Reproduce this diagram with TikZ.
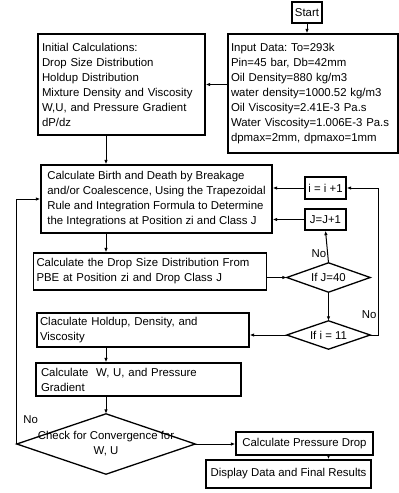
\documentclass[tikz,border=0pt]{standalone}
\usepackage{fontspec}
\setmainfont{Liberation Sans}
\usetikzlibrary{arrows.meta}
\frenchspacing

\begin{document}
\begin{tikzpicture}[
  x=1pt,y=-1pt,
  >={Latex[length=4.5pt,width=3.5pt]},
  font=\fontsize{11.4}{15}\selectfont,
  box/.style={draw,line width=1.3pt,inner xsep=3pt,inner ysep=2pt,
    align=left,text width=#1},
  tag/.style={draw,line width=1.3pt,inner sep=2pt,align=center},
  test/.style={inner sep=0pt,align=center},
  flow/.style={->,line width=1pt},
  lab/.style={inner sep=1pt}]

  \useasboundingbox (0,0) rectangle (399,493);

  % ---- top: start, input data, initial calculations ----
  \node[tag,minimum width=30,minimum height=21] (start) at (307,12.5) {Start};
  \node[box=164,minimum width=170,minimum height=119] (input) at (313,93.5)
    {Input Data: To=293k\\Pin=45 bar, Db=42mm\\Oil Density=880 kg/m3\\
     water density=1000.52 kg/m3\\Oil Viscosity=2.41E-3 Pa.s\\
     Water Viscosity=1.006E-3 Pa.s\\dpmax=2mm, dpmaxo=1mm};
  \node[box=159,minimum width=167,minimum height=101] (init) at (121.5,84.5)
    {Initial Calculations:\\Drop Size Distribution\\Holdup Distribution\\
     Mixture Density and Viscosity\\W,U, and Pressure Gradient\\dP/dz};

  \draw[flow] (start.south) -- (start.south |- input.north);
  \draw[flow] (input.west |- init.east) -- (init.east);

  % ---- inner loops over classes J and positions i ----
  \node[tag,align=left,minimum width=231,minimum height=68] (birth) at (156.5,199)
    {Calculate Birth and Death by Breakage\\
     and/or Coalescence, Using the Trapezoidal\\
     Rule and Integration Formula to Determine\\
     the Integrations at Position zi and Class J};
  \node[tag,minimum width=41,minimum height=22] (inci) at (325.5,188) {i = i +1};
  \node[tag,minimum width=41,minimum height=21] (incJ) at (325.5,219.5) {J=J+1};
  \node[box=227,minimum width=232,minimum height=37] (dsd) at (150,271.5)
    {Calculate the Drop Size Distribution From\\
     PBE at Position zi and Drop Class J};
  \node[test,minimum width=83,minimum height=29] (ifJ) at (328.5,277.5) {If J=40};
  \node[box=206,minimum width=210,minimum height=34] (holdup) at (143,330)
    {Claculate Holdup, Density, and\\Viscosity};
  \node[test,minimum width=83,minimum height=28] (ifi) at (328.5,335) {If i = 11};
  \coordinate (loopR) at (378,188);

  \draw[flow] (init.south -| 106,0) -- (birth.north -| 106,0);
  \draw[flow] (inci.west) -- (inci.west -| birth.east);
  \draw[flow] (incJ.west) -- (incJ.west -| birth.east);
  \draw[flow] (birth.south -| 106,0) -- (dsd.north -| 106,0);
  \draw[flow] (dsd.east |- ifJ.west) -- (ifJ.west);
  \draw[flow] (ifJ.north) -- (incJ.south) node[lab,pos=0.27,left] {No};
  \draw[flow] (ifJ.south) -- (ifi.north);
  \draw[flow] (ifi.west) -- (ifi.west -| holdup.east);
  \draw[flow] (ifi.east) -| (loopR) node[lab,pos=0.57,left] {No} -- (inci.east);

  % ---- outer loop: W, U and convergence ----
  \node[box=195,minimum width=205,minimum height=33] (wu) at (138.5,379.5)
    {Calculate\ \ W, U, and Pressure\\Gradient};
  \node[test,minimum width=178,minimum height=60] (conv) at (106,444)
    {Check for Convergence for\\W, U};
  \node[tag,minimum width=137,minimum height=23] (pdrop) at (304.5,443.5)
    {Calculate Pressure Drop};
  \node[tag,minimum width=165,minimum height=28] (disp) at (288.5,474)
    {Display Data and Final Results};

  \draw[flow] (holdup.south -| conv) -- (wu.north -| conv);
  \draw[flow] (wu.south -| conv) -- (conv.north);
  \draw[flow] (conv.west) |- (birth.west) node[lab,pos=0.05,right=5pt] {No};
  \draw[flow] (conv.east) -- (conv.east -| pdrop.west);
  \draw[flow] (pdrop.south -| ifJ) -- (disp.north -| ifJ);

  % diamonds
  \foreach \d in {ifJ,ifi,conv}
    \draw[line width=1.3pt] (\d.west) -- (\d.north) -- (\d.east) -- (\d.south) -- cycle;
\end{tikzpicture}
\end{document}
